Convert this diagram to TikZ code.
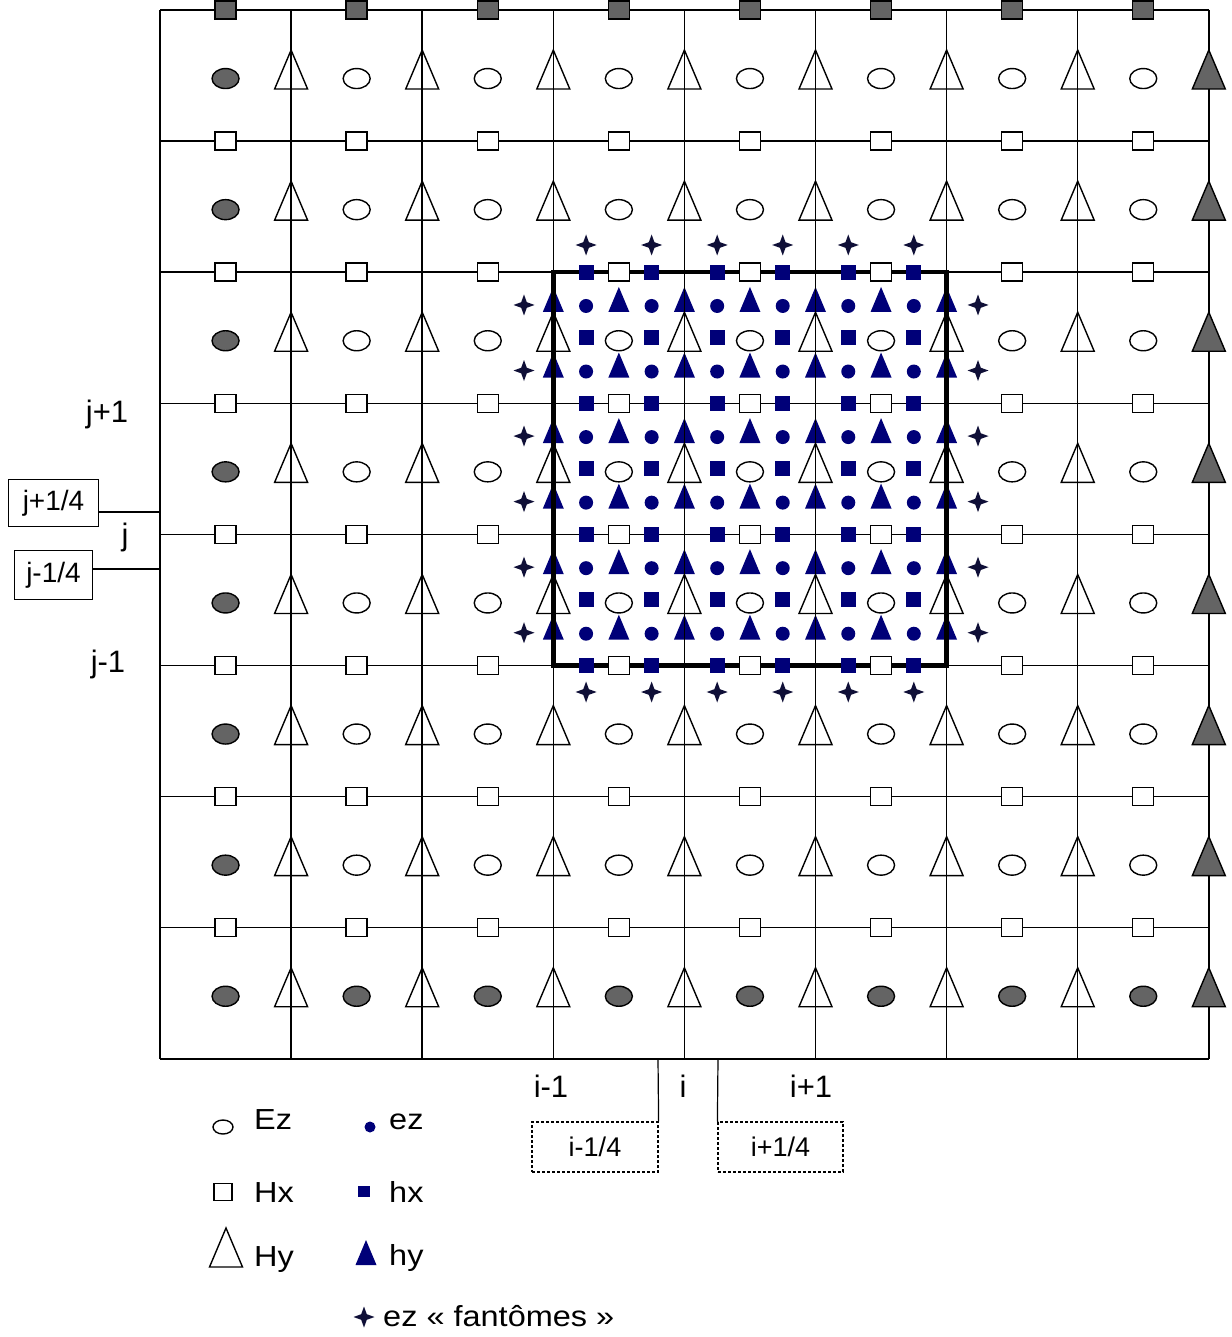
\documentclass[tikz,border=0pt]{standalone}
\usepackage{fontspec}
\setmainfont{Liberation Sans}
\newfontfamily\legfont[FakeStretch=1.12]{Liberation Sans}
\usetikzlibrary{shapes.geometric}
\definecolor{navy}{RGB}{0,0,120}
\definecolor{ghostc}{RGB}{15,15,55}
\definecolor{symgray}{RGB}{100,100,100}
\tikzset{
  gridline/.style={line width=1.5pt, black},
  thickbox/.style={line width=4.5pt, black, line join=miter},
  Ezsym/.style={draw, ellipse, line width=1.4pt, minimum width=27pt, minimum height=20pt, inner sep=0pt, fill=white},
  Hxsym/.style={draw, rectangle, line width=1.4pt, minimum width=21pt, minimum height=18pt, inner sep=0pt, fill=white},
  ezsym/.style={circle, fill=navy, minimum size=14pt, inner sep=0pt},
  hxsym/.style={rectangle, fill=navy, minimum size=15pt, inner sep=0pt},
  pics/Hytri/.style={code={\draw[line width=1.4pt, line join=miter, fill=#1] (-16.5,13.5) -- (0,-25.5) -- (16.5,13.5) -- cycle;}},
  pics/finetri/.style={code={\fill[navy] (-10.5,7) -- (0,-18) -- (10.5,7) -- cycle;}},
  pics/ghoststar/.style={code={\fill[ghostc] (0,-10.5) -- (2.8,-2.8) -- (10.5,0) -- (2.8,2.8) -- (0,10.5) -- (-2.8,2.8) -- (-10.5,0) -- (-2.8,-2.8) -- cycle;}},
  idxlabel/.style={font=\fontsize{31}{31}\selectfont, anchor=base, inner sep=0pt},
  solidbox/.style={draw, line width=1.2pt, inner sep=0pt, font=\fontsize{28}{28}\selectfont},
  dashbox/.style={draw, line width=1.2pt, dash pattern=on 3pt off 2pt, inner sep=0pt, font=\fontsize{27}{27}\selectfont},
  labelline/.style={line width=1.2pt, black},
  legtext/.style={font=\legfont\fontsize{29}{29}\selectfont, anchor=base west, inner sep=0pt},
}
\begin{document}
\begin{tikzpicture}[x=1pt,y=-1pt]
\fill[white] (0,0) rectangle (1231,1337);
\useasboundingbox (0,0) rectangle (1231,1337);

% fine hy (under the lines)
\foreach \a in {0,...,6}{\foreach \b in {0,...,5}{
  \pic (hy-\a-\b) at ({553.3+65.55*\a},{272.2+65.55*(\b+0.5)}) {finetri};
}}

% coarse grid
\foreach \k in {0,...,8}{
  \draw[gridline] ({160+131.1*\k},10) -- ({160+131.1*\k},1058.8);
  \draw[gridline] (160,{10+131.1*\k}) -- (1208.8,{10+131.1*\k});
}
\draw[thickbox] (553.3,272.2) rectangle (946.6,665.5);

% coarse Ez
\foreach \k in {0,...,7}{\foreach \m in {0,...,7}{
  \ifnum\k=0 \def\fc{symgray}\else\ifnum\m=7 \def\fc{symgray}\else\def\fc{white}\fi\fi
  \node[Ezsym, fill=\fc] (Ez-\k-\m) at ({160+131.1*(\k+0.5)},{10+131.1*(\m+0.5)+3}) {};
}}
% coarse Hy
\foreach \k in {1,...,8}{\foreach \m in {0,...,7}{
  \ifnum\k=8 \def\fc{symgray}\else\def\fc{none}\fi
  \pic (Hy-\k-\m) at ({160+131.1*\k},{10+131.1*(\m+0.5)}) {Hytri=\fc};
}}
% coarse Hx
\foreach \k in {0,...,7}{\foreach \m in {0,...,7}{
  \ifnum\m=0 \def\fc{symgray}\else\def\fc{white}\fi
  \node[Hxsym, fill=\fc] (Hx-\k-\m) at ({160+131.1*(\k+0.5)},{10+131.1*\m}) {};
}}

% fine ez
\foreach \a in {0,...,5}{\foreach \b in {0,...,5}{
  \node[ezsym] (ez-\a-\b) at ({553.3+65.55*(\a+0.5)},{272.2+65.55*(\b+0.5)+1}) {};
}}
% fine hx
\foreach \a in {0,...,5}{\foreach \b in {0,...,6}{
  \node[hxsym] (hx-\a-\b) at ({553.3+65.55*(\a+0.5)},{272.2+65.55*\b}) {};
}}
% ghost ez
\foreach \a in {0,...,5}{
  \pic (gt-\a) at ({553.3+65.55*(\a+0.5)},245) {ghoststar};
  \pic (gb-\a) at ({553.3+65.55*(\a+0.5)},692) {ghoststar};
  \pic (gl-\a) at (524,{272.2+65.55*(\a+0.5)}) {ghoststar};
  \pic (gr-\a) at (978,{272.2+65.55*(\a+0.5)}) {ghoststar};
}

% index labels
\node[idxlabel] (jp1) at (107,422) {j+1};
\node[idxlabel] (j0) at (125,545) {j};
\node[idxlabel] (jm1) at (108,672) {j-1};
\node[idxlabel] (im1) at (551,1097) {i-1};
\node[idxlabel] (i0) at (683,1097) {i};
\node[idxlabel] (ip1) at (811,1097) {i+1};

\node[solidbox, minimum width=90pt, minimum height=47pt] (jq) at (53.5,503) {j+1/4};
\node[solidbox, minimum width=78pt, minimum height=49pt] (jm) at (53.5,575) {j-1/4};
\node[dashbox, minimum width=126pt, minimum height=50pt] (iq) at (595,1147) {i-1/4};
\node[dashbox, minimum width=125pt, minimum height=50pt] (ip) at (780.5,1147) {i+1/4};

\coordinate (gjq) at (160,512);
\coordinate (gjm) at (160,569);
\coordinate (giq) at (658,1058.8);
\coordinate (gip) at (718,1058.8);
\draw[labelline] (jq.east |- gjq) -- (gjq);
\draw[labelline] (jm.east |- gjm) -- (gjm);
\draw[labelline] (iq.north east) -- (giq);
\draw[labelline] (ip.north west) -- (gip);

% legend
\node[Ezsym, minimum width=20pt, minimum height=14pt] (lEz) at (223,1127) {};
\node[legtext] (lEzt) at (254,1129) {Ez};
\node[ezsym, minimum size=11pt] (lez) at (370,1127) {};
\node[legtext] (lezt) at (389,1129) {ez};
\node[Hxsym, minimum width=18pt, minimum height=17pt] (lHx) at (223,1192) {};
\node[legtext] (lHxt) at (254,1202) {Hx};
\node[hxsym, minimum width=12pt, minimum height=11pt] (lhx) at (364,1191) {};
\node[legtext] (lhxt) at (389,1202) {hx};
\pic (lHy) at (226,1253.5) {Hytri=none};
\node[legtext] (lHyt) at (254,1266) {Hy};
\pic (lhy) at (366,1258) {finetri};
\node[legtext] (lhyt) at (389,1265) {hy};
\pic (lgh) at (364,1317) {ghoststar};
\node[legtext] (lght) at (383,1326) {ez « fantômes »};
\end{tikzpicture}
\end{document}
